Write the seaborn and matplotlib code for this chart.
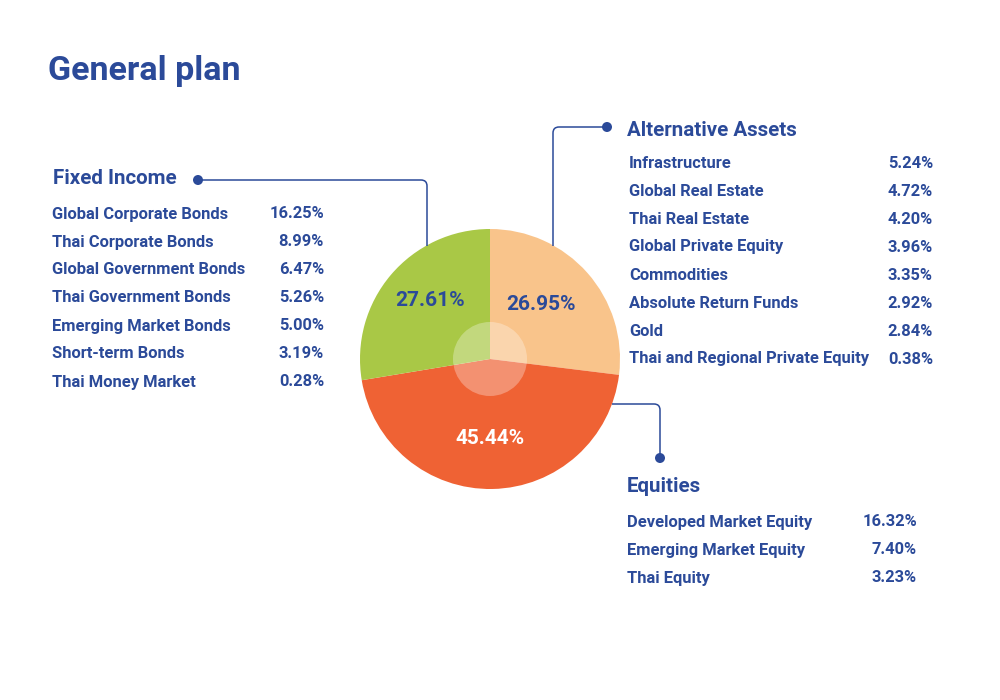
import numpy as np
import matplotlib.pyplot as plt
from matplotlib.path import Path
from matplotlib.patches import PathPatch, Circle
import seaborn as sns

# データ
groups = ["Alternative Assets", "Equities", "Fixed Income"]
group_shares = [26.95, 45.44, 27.61]

fixed_names = ["Global Corporate Bonds", "Thai Corporate Bonds", "Global Government Bonds",
               "Thai Government Bonds", "Emerging Market Bonds", "Short-term Bonds",
               "Thai Money Market"]
fixed_vals = ["16.25%", "8.99%", "6.47%", "5.26%", "5.00%", "3.19%", "0.28%"]

alt_names = ["Infrastructure", "Global Real Estate", "Thai Real Estate",
             "Global Private Equity", "Commodities", "Absolute Return Funds", "Gold",
             "Thai and Regional Private Equity"]
alt_vals = ["5.24%", "4.72%", "4.20%", "3.96%", "3.35%", "2.92%", "2.84%", "0.38%"]

eq_names = ["Developed Market Equity", "Emerging Market Equity", "Thai Equity"]
eq_vals = ["16.32%", "7.40%", "3.23%"]

navy = "#2b4a99"
colors = sns.color_palette(["#f9c48b", "#ef6234", "#a9c846"])

sns.set_theme(style="white")
plt.rcParams["font.family"] = ["Roboto", "DejaVu Sans"]

fig = plt.figure(figsize=(10, 7), dpi=100)
ax = fig.add_axes([0, 0, 1, 1])

# 円グラフ (y軸反転なので counterclock=True で時計回りに見える)
cx, cy, r = 490, 359, 130
ax.pie(group_shares, colors=colors, startangle=-90, counterclock=True,
       center=(cx, cy), radius=r, frame=True, wedgeprops=dict(linewidth=0))
ax.set_xlim(0, 1000)
ax.set_ylim(700, 0)
ax.axis("off")
ax.add_patch(Circle((cx, cy), 37, facecolor="white", alpha=0.3, linewidth=0, zorder=5))

ax.text(541, 305, f"{group_shares[0]:.2f}%", color=navy, fontsize=15, fontweight="bold",
        ha="center", va="center", zorder=6)
ax.text(490, 438, f"{group_shares[1]:.2f}%", color="white", fontsize=15, fontweight="bold",
        ha="center", va="center", zorder=6)
ax.text(430, 300, f"{group_shares[2]:.2f}%", color=navy, fontsize=15, fontweight="bold",
        ha="center", va="center", zorder=6)


def connector(pts, rad=6):
    # 角を丸めた折れ線
    verts = [pts[0]]
    codes = [Path.MOVETO]
    for i in range(1, len(pts) - 1):
        p0, p1, p2 = map(np.array, (pts[i - 1], pts[i], pts[i + 1]))
        d1 = (p1 - p0) / np.linalg.norm(p1 - p0)
        d2 = (p2 - p1) / np.linalg.norm(p2 - p1)
        verts += [tuple(p1 - d1 * rad), tuple(p1), tuple(p1 + d2 * rad)]
        codes += [Path.LINETO, Path.CURVE3, Path.CURVE3]
    verts.append(pts[-1])
    codes.append(Path.LINETO)
    ax.add_patch(PathPatch(Path(verts, codes), fill=False, edgecolor=navy, linewidth=1.1, zorder=3))


connector([(198, 180), (427, 180), (427, 246)])
connector([(607, 127), (553, 127), (553, 246)])
connector([(612, 404), (660, 404), (660, 458)])
for x, y in [(198, 180), (607, 127), (660, 458)]:
    ax.add_patch(Circle((x, y), 5, facecolor=navy, linewidth=0, zorder=4))

# タイトル
ax.text(48, 71, "General plan", color=navy, fontsize=24.5, fontweight="bold", va="center")

# 各グループの見出し
ax.text(53, 179, groups[2], color=navy, fontsize=14.8, fontweight="bold", va="center")
ax.text(627, 130, groups[0], color=navy, fontsize=14.8, fontweight="bold", va="center")
ax.text(627, 487, groups[1], color=navy, fontsize=14.8, fontweight="bold", va="center")


def item_list(names, vals, x0, x1, y0):
    for i, (n, v) in enumerate(zip(names, vals)):
        y = y0 + i * 28
        ax.text(x0, y, n, color=navy, fontsize=11.9, fontweight="bold", va="center")
        ax.text(x1, y, v, color=navy, fontsize=11.9, fontweight="bold", va="center", ha="right")


item_list(fixed_names, fixed_vals, 52, 324, 214)
item_list(alt_names, alt_vals, 629, 933, 163)
item_list(eq_names, eq_vals, 627, 917, 522)

fig.savefig("out.png", dpi=100, facecolor="white")
